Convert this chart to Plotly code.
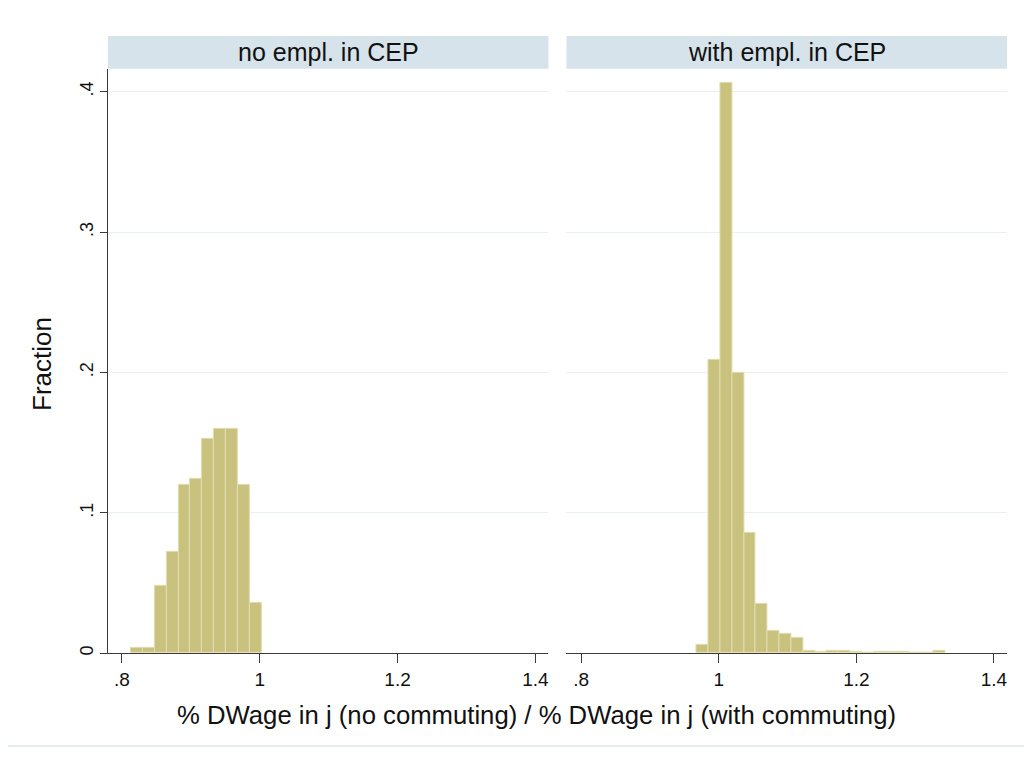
import plotly.graph_objects as go

# ---- data ----
panel_titles = ["no empl. in CEP", "with empl. in CEP"]
bin_start = 0.8135
bin_width = 0.01718
# fractions per bin (left panel starts at bin 0, right panel at bin 9)
left_first_bin = 0
left_fraction = [0.004, 0.004, 0.048, 0.072, 0.120, 0.124, 0.153, 0.160, 0.160, 0.120, 0.036]
right_first_bin = 9
right_fraction = [0.006, 0.209, 0.406, 0.200, 0.086, 0.035, 0.016, 0.0135, 0.011,
                  0.002, 0.001, 0.002, 0.002, 0.001, 0.0, 0.001, 0.001, 0.001,
                  0.0, 0.0, 0.002]
x_tickvals = [0.8, 1.0, 1.2, 1.4]
x_ticktext = [".8", "1", "1.2", "1.4"]
y_tickvals = [0, 0.1, 0.2, 0.3, 0.4]
y_ticktext = ["0", ".1", ".2", ".3", ".4"]
x_title = "% DWage in j (no commuting) / % DWage in j (with commuting)"
y_title = "Fraction"

# page has an 8px body margin; figure sized to fit the window
OFF = 8
W, H = 1033 - 2 * OFF, 757 - 2 * OFF
def px(x):
    return (x - OFF) / W
def py(y):
    return 1 - (y - OFF) / H

def centers(first, n):
    return [bin_start + bin_width * (first + i + 0.5) for i in range(n)]

bar_fill = "#c9c17e"
bar_line = "#e2ddb3"
font_family = "Liberation Sans, Arial, sans-serif"

fig = go.Figure()
fig.add_trace(go.Bar(x=centers(left_first_bin, len(left_fraction)), y=left_fraction,
                     width=bin_width, marker=dict(color=bar_fill, line=dict(color=bar_line, width=1)),
                     xaxis="x", yaxis="y", showlegend=False, hoverinfo="x+y"))
fig.add_trace(go.Bar(x=centers(right_first_bin, len(right_fraction)), y=right_fraction,
                     width=bin_width, marker=dict(color=bar_fill, line=dict(color=bar_line, width=1)),
                     xaxis="x2", yaxis="y2", showlegend=False, hoverinfo="x+y"))

ydom = [py(655), py(69)]
yrange = [0, 0.4163]
grid_color = "#eaf0f2"
axis_color = "#3a3a3a"
tickfont = dict(family=font_family, size=19, color="#111")

common_x = dict(tickmode="array", tickvals=x_tickvals, ticktext=x_ticktext, ticks="outside",
                ticklen=9, tickwidth=1.3, tickcolor=axis_color, showline=True, linecolor=axis_color,
                linewidth=1.3, showgrid=False, zeroline=False, tickfont=tickfont, fixedrange=True)

fig.update_layout(
    width=W, height=H, margin=dict(l=0, r=0, t=0, b=0),
    paper_bgcolor="white", plot_bgcolor="white", bargap=0,
    xaxis=dict(domain=[px(108), px(549)], range=[0.7797, 1.419], anchor="y", **common_x),
    xaxis2=dict(domain=[px(567), px(1008)], range=[0.7786, 1.419], anchor="y2", **common_x),
    yaxis=dict(domain=ydom, range=yrange, anchor="x", tickmode="array", tickvals=y_tickvals,
               ticktext=y_ticktext, ticks="outside", ticklen=7, tickwidth=1.3, tickcolor=axis_color,
               showline=True, linecolor=axis_color, linewidth=1.3, showgrid=True, gridcolor=grid_color,
               gridwidth=1, zeroline=False, tickangle=-90, tickfont=dict(family=font_family, size=18, color="#111"),
               fixedrange=True),
    yaxis2=dict(domain=ydom, range=yrange, anchor="x2", tickmode="array", tickvals=y_tickvals,
                showticklabels=False, ticks="", showline=False, showgrid=True, gridcolor=grid_color,
                gridwidth=1, zeroline=False, fixedrange=True),
)

border = dict(color="#e4ecf0", width=2)
shapes = [
    dict(type="line", xref="paper", yref="paper", x0=px(5), x1=px(5), y0=py(748), y1=py(3), line=border),
    dict(type="line", xref="paper", yref="paper", x0=px(5), x1=1, y0=py(3), y1=py(3), line=border),
    dict(type="line", xref="paper", yref="paper", x0=px(5), x1=1, y0=py(748), y1=py(748), line=border),
    dict(type="rect", xref="paper", yref="paper", x0=px(108), x1=px(549), y0=py(69), y1=py(36),
         line=dict(width=0), fillcolor="#d7e3ea"),
    dict(type="rect", xref="paper", yref="paper", x0=px(567), x1=px(1008), y0=py(69), y1=py(36),
         line=dict(width=0), fillcolor="#d7e3ea"),
]
annotations = [
    dict(text=panel_titles[0], xref="paper", yref="paper", x=px(328.5), y=py(52.5), showarrow=False,
         xanchor="center", yanchor="middle", font=dict(family=font_family, size=25, color="#111")),
    dict(text=panel_titles[1], xref="paper", yref="paper", x=px(787.5), y=py(52.5), showarrow=False,
         xanchor="center", yanchor="middle", font=dict(family=font_family, size=25, color="#111")),
    dict(text=x_title, xref="paper", yref="paper", x=px(537.5), y=py(717), showarrow=False,
         xanchor="center", yanchor="middle", font=dict(family=font_family, size=25.7, color="#111")),
    dict(text=y_title, xref="paper", yref="paper", x=px(42), y=py(365), showarrow=False, textangle=-90,
         xanchor="center", yanchor="middle", font=dict(family=font_family, size=26, color="#111")),
]
fig.update_layout(shapes=shapes, annotations=annotations)

fig.write_html("out.html")
